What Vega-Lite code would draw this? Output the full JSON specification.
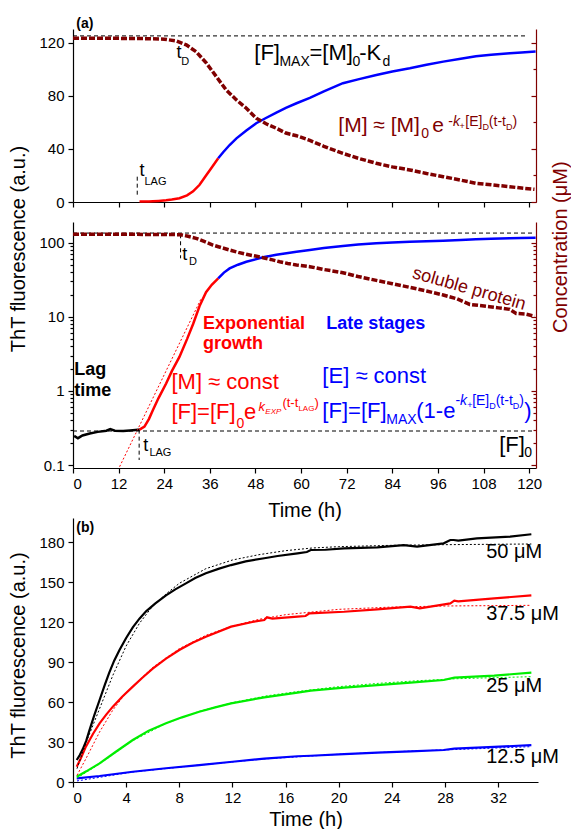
{
"$schema": "https://vega.github.io/schema/vega-lite/v6.json",
"padding": {"left": 7, "top": 16, "right": 0, "bottom": 0},
"config": {"font": "Liberation Sans", "view": {"stroke": null},
  "axis": {"grid": false, "labelFontSize": 15, "titleFontSize": 20, "titleFontWeight": "normal", "labelColor": "#000000", "titleColor": "#000000", "domainColor": "#000000", "tickColor": "#000000", "domainWidth": 1.2, "tickWidth": 1.2, "labelPadding": 3}},
"bounds": "flush",
"spacing": 20,
"resolve": {"scale": {"color": "independent"}},
"datasets": {
"A": [
{"t":17.5,"v":0.3,"s":"exp"},{"t":18.8,"v":0.33,"s":"exp"},{"t":20,"v":0.42,"s":"exp"},{"t":21,"v":0.55,"s":"exp"},{"t":22.5,"v":0.8,"s":"exp"},{"t":24.5,"v":1.26,"s":"exp"},{"t":26,"v":1.85,"s":"exp"},{"t":28,"v":2.88,"s":"exp"},{"t":30,"v":5.0,"s":"exp"},{"t":31.6,"v":8.0,"s":"exp"},{"t":33.3,"v":13,"s":"exp"},{"t":35,"v":20,"s":"exp"},{"t":36.5,"v":26,"s":"exp"},{"t":38.2,"v":33,"s":"exp"},
{"t":38.2,"v":33,"s":"late"},{"t":39.5,"v":37.5,"s":"late"},{"t":41.2,"v":43,"s":"late"},{"t":43,"v":48,"s":"late"},{"t":45.6,"v":54,"s":"late"},{"t":48.2,"v":59.4,"s":"late"},{"t":50.5,"v":63,"s":"late"},{"t":53.5,"v":67.4,"s":"late"},{"t":56,"v":71,"s":"late"},{"t":58.8,"v":74.5,"s":"late"},{"t":62.3,"v":78.5,"s":"late"},{"t":66,"v":83.5,"s":"late"},{"t":71,"v":89.6,"s":"late"},{"t":75,"v":92.5,"s":"late"},{"t":79.8,"v":95.8,"s":"late"},{"t":84,"v":98.5,"s":"late"},{"t":88.6,"v":100.9,"s":"late"},{"t":93,"v":103.5,"s":"late"},{"t":97.4,"v":105.9,"s":"late"},{"t":102,"v":108,"s":"late"},{"t":106,"v":110,"s":"late"},{"t":110,"v":111,"s":"late"},{"t":114.9,"v":112.2,"s":"late"},{"t":118,"v":112.8,"s":"late"},{"t":121.7,"v":113.5,"s":"late"}
],
"Aref": [
{"t":0,"v":125.3,"s":"Fmax"},{"t":119.2,"v":125.3,"s":"Fmax"},
{"t":16.9,"v":19.1,"s":"tlag"},{"t":16.9,"v":4.5,"s":"tlag"}
],
"Aconc": [
{"t":0,"v":123.5},{"t":10,"v":123.5},{"t":20,"v":123.2},{"t":24,"v":122.8},{"t":27.2,"v":121.5},{"t":29.8,"v":118.5},{"t":32.4,"v":113.4},{"t":35.1,"v":104.7},{"t":37.7,"v":94.6},{"t":40.3,"v":84.5},{"t":43,"v":77},{"t":45.6,"v":70.7},{"t":48.2,"v":63.2},{"t":50.8,"v":59},{"t":53.5,"v":55.6},{"t":56,"v":52},{"t":58.8,"v":50},{"t":62.3,"v":46.5},{"t":66,"v":42},{"t":71,"v":36.7},{"t":75,"v":33},{"t":79.8,"v":29.2},{"t":84,"v":26.5},{"t":88.6,"v":24.2},{"t":93,"v":21.5},{"t":97.4,"v":19.1},{"t":102,"v":16.5},{"t":106,"v":14.1},{"t":110,"v":13},{"t":114.9,"v":11.5},{"t":118,"v":10.5},{"t":121.4,"v":9.6}
],
"At": [
{"t":0.87,"v":131.3,"txt":"(a)","r":"bold14","s":"ref"},
{"t":27.2,"v":108.6,"txt":"t","r":"t","s":"ref"},
{"t":28.5,"v":103.3,"txt":"D","r":"tsub","s":"ref"},
{"t":17.5,"v":19.6,"txt":"t","r":"t","s":"ref"},
{"t":18.8,"v":12.8,"txt":"LAG","r":"tsub","s":"ref"},
{"t":47.7,"v":107.1,"txt":"[F]","r":"main","s":"ref"},
{"t":54.3,"v":102.6,"txt":"MAX","r":"sub","s":"ref"},
{"t":62.2,"v":107.1,"txt":"=[M]","r":"main","s":"ref"},
{"t":73.5,"v":102.6,"txt":"0","r":"sub","s":"ref"},
{"t":75.3,"v":107.1,"txt":"-K","r":"main","s":"ref"},
{"t":81.4,"v":102.6,"txt":"d","r":"sub","s":"ref"},
{"t":69.8,"v":52.8,"txt":"[M] ≈ [M]","r":"mainM","s":"conc"},
{"t":91.6,"v":48.3,"txt":"0","r":"sub","s":"conc"},
{"t":94.5,"v":52.8,"txt":"e","r":"mainM","s":"conc"},
{"t":98.7,"v":57.3,"txt":"-","r":"sup","s":"conc"},
{"t":99.96,"v":57.3,"txt":"k","r":"supi","s":"conc"},
{"t":101.7,"v":55.1,"txt":"+","r":"tiny","s":"conc"},
{"t":103.2,"v":57.3,"txt":"[E]","r":"sup","s":"conc"},
{"t":107.7,"v":54.3,"txt":"D","r":"tiny","s":"conc"},
{"t":109.4,"v":57.3,"txt":"(t-t","r":"sup","s":"conc"},
{"t":113.9,"v":54.3,"txt":"D","r":"tiny","s":"conc"},
{"t":115.6,"v":57.3,"txt":")","r":"sup","s":"conc"}
],
"B": [
{"t":0.3,"v":0.247,"s":"lag"},{"t":1.3,"v":0.23,"s":"lag"},{"t":2.5,"v":0.25,"s":"lag"},{"t":4.4,"v":0.266,"s":"lag"},{"t":6.5,"v":0.28,"s":"lag"},{"t":8.8,"v":0.29,"s":"lag"},{"t":9.8,"v":0.305,"s":"lag"},{"t":11,"v":0.29,"s":"lag"},{"t":13.2,"v":0.288,"s":"lag"},{"t":15,"v":0.293,"s":"lag"},{"t":17.1,"v":0.3,"s":"lag"},{"t":17.5,"v":0.3,"s":"lag"},
{"t":17.5,"v":0.3,"s":"exp"},{"t":18.8,"v":0.33,"s":"exp"},{"t":20,"v":0.42,"s":"exp"},{"t":21,"v":0.55,"s":"exp"},{"t":22.5,"v":0.8,"s":"exp"},{"t":24.5,"v":1.26,"s":"exp"},{"t":26,"v":1.85,"s":"exp"},{"t":28,"v":2.88,"s":"exp"},{"t":30,"v":5.0,"s":"exp"},{"t":31.6,"v":8.0,"s":"exp"},{"t":33.3,"v":14,"s":"exp"},{"t":35,"v":21.5,"s":"exp"},{"t":36.5,"v":27,"s":"exp"},{"t":38.2,"v":33,"s":"exp"},
{"t":38.2,"v":33,"s":"late"},{"t":39.7,"v":39.5,"s":"late"},{"t":41.2,"v":45,"s":"late"},{"t":43.4,"v":50.5,"s":"late"},{"t":45.6,"v":55.4,"s":"late"},{"t":50,"v":63.5,"s":"late"},{"t":53.5,"v":69,"s":"late"},{"t":58.8,"v":75.5,"s":"late"},{"t":62.3,"v":79.7,"s":"late"},{"t":66,"v":85,"s":"late"},{"t":71,"v":90,"s":"late"},{"t":75,"v":94.5,"s":"late"},{"t":79.8,"v":98,"s":"late"},{"t":84,"v":101,"s":"late"},{"t":88.6,"v":103,"s":"late"},{"t":93,"v":105,"s":"late"},{"t":97.4,"v":106.5,"s":"late"},{"t":102,"v":109,"s":"late"},{"t":106,"v":111,"s":"late"},{"t":110,"v":113,"s":"late"},{"t":114.9,"v":114.7,"s":"late"},{"t":118,"v":115.8,"s":"late"},{"t":121.7,"v":116.8,"s":"late"}
],
"Bref": [
{"t":0,"v":135,"s":"Fmax"},{"t":121.4,"v":135,"s":"Fmax"},
{"t":0,"v":0.2876,"s":"F0"},{"t":121.4,"v":0.2876,"s":"F0"},
{"t":17.4,"v":0.3,"s":"tlag"},{"t":17.4,"v":0.1168,"s":"tlag"},
{"t":28.3,"v":130,"s":"tD"},{"t":28.3,"v":61.6,"s":"tD"}
],
"Bfit": [
{"t":12.26,"v":0.0948},{"t":33.75,"v":17.77}
],
"Bconc": [
{"t":0,"v":129.8},{"t":10,"v":130},{"t":20,"v":129.5},{"t":26,"v":129},{"t":28.3,"v":128},{"t":30,"v":123},{"t":32.4,"v":114.6},{"t":34.5,"v":104},{"t":36.8,"v":93},{"t":39,"v":86},{"t":41.2,"v":79.7},{"t":43.5,"v":74},{"t":45.6,"v":69.7},{"t":48,"v":66},{"t":50,"v":62.8},{"t":52,"v":59.5},{"t":54.4,"v":55.4},{"t":56.5,"v":52.5},{"t":58.8,"v":50},{"t":62.3,"v":47.5},{"t":66,"v":43.5},{"t":71,"v":39.4},{"t":75,"v":35},{"t":79.8,"v":31},{"t":84,"v":28},{"t":88.6,"v":25},{"t":93,"v":22.3},{"t":97.4,"v":19.7},{"t":101,"v":17.5},{"t":104.4,"v":14.7},{"t":107,"v":14.2},{"t":109.6,"v":13.7},{"t":112,"v":13.2},{"t":114.9,"v":12.6},{"t":116.6,"v":11.1},{"t":119,"v":10.9},{"t":121.4,"v":10.2}
],
"Bt": [
{"t":28.75,"v":58.4,"txt":"t","r":"t","s":"ref"},
{"t":30.5,"v":50.0,"txt":"D","r":"tsub","s":"ref"},
{"t":18.5,"v":0.1545,"txt":"t","r":"t","s":"ref"},
{"t":20.1,"v":0.132,"txt":"LAG","r":"tsub","s":"ref"},
{"t":0.3,"v":1.639,"txt":"Lag","r":"bold","s":"ref"},
{"t":0.3,"v":0.853,"txt":"time","r":"bold","s":"ref"},
{"t":34.2,"v":6.84,"txt":"Exponential","r":"bold","s":"exp"},
{"t":34.2,"v":3.68,"txt":"growth","r":"bold","s":"exp"},
{"t":66.6,"v":6.84,"txt":"Late stages","r":"bold","s":"late"},
{"t":25.9,"v":1.061,"txt":"[M] ≈ const","r":"main","s":"exp"},
{"t":25.9,"v":0.4175,"txt":"[F]=[F]","r":"main","s":"exp"},
{"t":43.0,"v":0.3157,"txt":"0","r":"sub","s":"exp"},
{"t":45.0,"v":0.4175,"txt":"e","r":"main","s":"exp"},
{"t":48.77,"v":0.5355,"txt":"k","r":"supi13","s":"exp"},
{"t":50.6,"v":0.4878,"txt":"EXP","r":"tinyi8","s":"exp"},
{"t":55.08,"v":0.6064,"txt":"(t-t","r":"sup13","s":"exp"},
{"t":59.3,"v":0.5355,"txt":"LAG","r":"tiny8","s":"exp"},
{"t":63.5,"v":0.6064,"txt":")","r":"sup13","s":"exp"},
{"t":65.6,"v":1.278,"txt":"[E] ≈ const","r":"main","s":"late"},
{"t":65.6,"v":0.4307,"txt":"[F]=[F]","r":"main","s":"late"},
{"t":82.4,"v":0.3575,"txt":"MAX","r":"sub","s":"late"},
{"t":90.3,"v":0.4307,"txt":"(1-e","r":"main","s":"late"},
{"t":100.6,"v":0.645,"txt":"-","r":"sup","s":"late"},
{"t":101.8,"v":0.645,"txt":"k","r":"supi","s":"late"},
{"t":103.7,"v":0.5877,"txt":"+","r":"tiny","s":"late"},
{"t":105.0,"v":0.645,"txt":"[E]","r":"sup","s":"late"},
{"t":109.5,"v":0.5695,"txt":"D","r":"tiny","s":"late"},
{"t":111.2,"v":0.645,"txt":"(t-t","r":"sup","s":"late"},
{"t":115.7,"v":0.5695,"txt":"D","r":"tiny","s":"late"},
{"t":117.4,"v":0.645,"txt":")","r":"sup","s":"late"},
{"t":118.7,"v":0.4307,"txt":")","r":"main","s":"late"},
{"t":112.1,"v":0.1498,"txt":"[F]","r":"main","s":"ref"},
{"t":118.7,"v":0.1282,"txt":"0","r":"sub","s":"ref"},
{"t":104.2,"v":23.7,"txt":"soluble protein","r":"rot","s":"conc"}
],
"C": [
{"t":0.28,"v":16.5,"s":"50"},{"t":0.5,"v":20,"s":"50"},{"t":0.73,"v":24.5,"s":"50"},{"t":1.0,"v":31,"s":"50"},{"t":1.23,"v":38.5,"s":"50"},{"t":1.6,"v":50,"s":"50"},{"t":2,"v":61.5,"s":"50"},{"t":2.4,"v":73,"s":"50"},{"t":2.73,"v":82,"s":"50"},{"t":3.1,"v":91,"s":"50"},{"t":3.5,"v":99,"s":"50"},{"t":4,"v":108,"s":"50"},{"t":4.5,"v":116,"s":"50"},{"t":5,"v":122.5,"s":"50"},{"t":5.5,"v":128,"s":"50"},{"t":6.2,"v":134,"s":"50"},{"t":7,"v":140,"s":"50"},{"t":7.7,"v":144.5,"s":"50"},{"t":8.5,"v":149,"s":"50"},{"t":9.2,"v":153,"s":"50"},{"t":10,"v":156.5,"s":"50"},{"t":11,"v":160,"s":"50"},{"t":11.9,"v":162.7,"s":"50"},{"t":13,"v":165.5,"s":"50"},{"t":14.4,"v":167.8,"s":"50"},{"t":15.4,"v":169.5,"s":"50"},{"t":16.9,"v":171.5,"s":"50"},{"t":17.6,"v":172.5,"s":"50"},{"t":17.9,"v":174,"s":"50"},{"t":19,"v":174.2,"s":"50"},{"t":20.4,"v":175.2,"s":"50"},{"t":22.9,"v":176,"s":"50"},{"t":24.9,"v":177.7,"s":"50"},{"t":25.9,"v":176.5,"s":"50"},{"t":27.9,"v":179,"s":"50"},{"t":28.4,"v":181.5,"s":"50"},{"t":28.65,"v":181.5,"s":"50"},{"t":29,"v":181,"s":"50"},{"t":30.4,"v":182.7,"s":"50"},{"t":32.9,"v":184,"s":"50"},{"t":34.5,"v":185.8,"s":"50"},
{"t":0.28,"v":11.5,"s":"37.5"},{"t":0.6,"v":18,"s":"37.5"},{"t":0.97,"v":26.5,"s":"37.5"},{"t":1.5,"v":36,"s":"37.5"},{"t":2,"v":44,"s":"37.5"},{"t":2.5,"v":50.5,"s":"37.5"},{"t":3,"v":56.5,"s":"37.5"},{"t":3.7,"v":64,"s":"37.5"},{"t":4.5,"v":71.5,"s":"37.5"},{"t":5.2,"v":78,"s":"37.5"},{"t":6,"v":85,"s":"37.5"},{"t":7,"v":92.5,"s":"37.5"},{"t":8,"v":99,"s":"37.5"},{"t":9,"v":104.5,"s":"37.5"},{"t":10,"v":109,"s":"37.5"},{"t":11.9,"v":116.5,"s":"37.5"},{"t":13.5,"v":120,"s":"37.5"},{"t":14.4,"v":121.5,"s":"37.5"},{"t":14.6,"v":123.5,"s":"37.5"},{"t":15,"v":122.5,"s":"37.5"},{"t":16.9,"v":124,"s":"37.5"},{"t":17.5,"v":124.5,"s":"37.5"},{"t":17.8,"v":126.5,"s":"37.5"},{"t":20.4,"v":127.7,"s":"37.5"},{"t":22.9,"v":129.5,"s":"37.5"},{"t":25.4,"v":131.5,"s":"37.5"},{"t":26.1,"v":130.2,"s":"37.5"},{"t":28.4,"v":134,"s":"37.5"},{"t":28.7,"v":136,"s":"37.5"},{"t":29,"v":135.5,"s":"37.5"},{"t":31.7,"v":137.7,"s":"37.5"},{"t":34.5,"v":140,"s":"37.5"},
{"t":0.28,"v":4,"s":"25"},{"t":1,"v":8,"s":"25"},{"t":2,"v":14,"s":"25"},{"t":3.2,"v":22.5,"s":"25"},{"t":4.5,"v":31.5,"s":"25"},{"t":5.7,"v":38.5,"s":"25"},{"t":7,"v":44,"s":"25"},{"t":8.2,"v":48.5,"s":"25"},{"t":9.5,"v":52.7,"s":"25"},{"t":10.7,"v":56,"s":"25"},{"t":11.9,"v":59,"s":"25"},{"t":14.4,"v":63.5,"s":"25"},{"t":16.9,"v":67,"s":"25"},{"t":17.9,"v":68.5,"s":"25"},{"t":20.4,"v":70.8,"s":"25"},{"t":22.9,"v":72.7,"s":"25"},{"t":25.4,"v":74.6,"s":"25"},{"t":27.9,"v":76.5,"s":"25"},{"t":28.7,"v":78.3,"s":"25"},{"t":31.7,"v":79.8,"s":"25"},{"t":34.5,"v":82,"s":"25"},
{"t":0.28,"v":2.7,"s":"12.5"},{"t":2,"v":4.5,"s":"12.5"},{"t":4.5,"v":7.7,"s":"12.5"},{"t":7,"v":10.3,"s":"12.5"},{"t":9.5,"v":12.7,"s":"12.5"},{"t":12,"v":15.2,"s":"12.5"},{"t":14.4,"v":17.5,"s":"12.5"},{"t":16.9,"v":19.3,"s":"12.5"},{"t":17.9,"v":19.7,"s":"12.5"},{"t":20.4,"v":20.9,"s":"12.5"},{"t":22.9,"v":22,"s":"12.5"},{"t":25.4,"v":23,"s":"12.5"},{"t":27.9,"v":24,"s":"12.5"},{"t":28.7,"v":25,"s":"12.5"},{"t":31.7,"v":26.3,"s":"12.5"},{"t":34.5,"v":27.7,"s":"12.5"}
],
"Cfit": [
{"t":0.3,"v":10,"s":"50"},{"t":1,"v":30,"s":"50"},{"t":2,"v":55,"s":"50"},{"t":3,"v":80,"s":"50"},{"t":4,"v":102,"s":"50"},{"t":5,"v":119,"s":"50"},{"t":6,"v":132,"s":"50"},{"t":7,"v":141,"s":"50"},{"t":8,"v":149,"s":"50"},{"t":10,"v":160,"s":"50"},{"t":12,"v":166.5,"s":"50"},{"t":14,"v":170.5,"s":"50"},{"t":16,"v":173.5,"s":"50"},{"t":18,"v":175.5,"s":"50"},{"t":20,"v":176.5,"s":"50"},{"t":24,"v":177.5,"s":"50"},{"t":28,"v":178,"s":"50"},{"t":34.5,"v":178.5,"s":"50"},
{"t":0.3,"v":5,"s":"37.5"},{"t":1,"v":18,"s":"37.5"},{"t":2,"v":37.5,"s":"37.5"},{"t":3,"v":54,"s":"37.5"},{"t":4,"v":67,"s":"37.5"},{"t":6,"v":86,"s":"37.5"},{"t":8,"v":100,"s":"37.5"},{"t":10,"v":110,"s":"37.5"},{"t":12,"v":117,"s":"37.5"},{"t":14,"v":122,"s":"37.5"},{"t":16,"v":125.5,"s":"37.5"},{"t":20,"v":129.5,"s":"37.5"},{"t":24,"v":131.2,"s":"37.5"},{"t":28,"v":132,"s":"37.5"},{"t":34.5,"v":132.5,"s":"37.5"},
{"t":0.3,"v":3,"s":"25"},{"t":2,"v":13.5,"s":"25"},{"t":4.5,"v":31,"s":"25"},{"t":7,"v":44,"s":"25"},{"t":9.5,"v":53,"s":"25"},{"t":12,"v":59.5,"s":"25"},{"t":14.5,"v":64.5,"s":"25"},{"t":17,"v":68,"s":"25"},{"t":20,"v":71.5,"s":"25"},{"t":23,"v":74,"s":"25"},{"t":26,"v":76,"s":"25"},{"t":29,"v":77.5,"s":"25"},{"t":34.5,"v":79,"s":"25"},
{"t":0.3,"v":0.8,"s":"12.5"},{"t":2,"v":3.5,"s":"12.5"},{"t":4.5,"v":7.5,"s":"12.5"},{"t":9.5,"v":12.7,"s":"12.5"},{"t":14.4,"v":17.3,"s":"12.5"},{"t":20,"v":20.8,"s":"12.5"},{"t":25,"v":23,"s":"12.5"},{"t":30,"v":24.8,"s":"12.5"},{"t":34.5,"v":26.5,"s":"12.5"}
],
"Ct": [
{"t":0.25,"v":187.5,"txt":"(b)","r":"bold14"},
{"t":31.1,"v":168,"txt":"50 μM","r":"label"},
{"t":31.1,"v":121.5,"txt":"37.5 μM","r":"label"},
{"t":31.1,"v":67.7,"txt":"25 μM","r":"label"},
{"t":31.1,"v":14,"txt":"12.5 μM","r":"label"}
]
},
"vconcat": [
{
 "width": 463, "height": 173,
 "layer": [
  {"layer": [
   {"data": {"name": "A"}, "mark": {"type": "line", "strokeWidth": 2.5},
    "encoding": {
     "x": {"field": "t", "type": "quantitative", "scale": {"domain": [0, 121.8], "nice": false, "zero": false},
       "axis": {"values": [0,6,12,18,24,30,36,42,48,54,60,66,72,78,84,90,96,102,108,114,120], "labels": false, "title": null,
         "tickSize": {"condition": {"test": "datum.value % 12 === 0", "value": 5}, "value": 3}}},
     "y": {"field": "v", "type": "quantitative", "scale": {"domain": [0, 130.5], "nice": false},
       "axis": {"values": [0,20,40,60,80,100,120], "labelExpr": "datum.value % 40 === 0 ? datum.label : ''", "title": null, "labelPadding": 4,
         "tickSize": {"condition": {"test": "datum.value % 40 === 0", "value": 5}, "value": 3}}},
     "color": {"field": "s", "type": "nominal", "scale": {"domain": ["lag","exp","late","conc","ref"], "range": ["#000000","#ff0000","#0000ff","#800000","#000000"]}, "legend": null}
    }},
   {"data": {"name": "Aref"}, "mark": {"type": "line", "strokeDash": [4,3], "strokeWidth": 1, "color": "#000000"},
    "encoding": {"x": {"field": "t", "type": "quantitative"}, "y": {"field": "v", "type": "quantitative"}, "detail": {"field": "s"}}},
   {"data": {"name": "At"}, "transform": [{"filter": "datum.r === 'main'"}], "mark": {"type": "text", "align": "left", "baseline": "alphabetic", "fontSize": 22},
    "encoding": {"x": {"field": "t", "type": "quantitative"}, "y": {"field": "v", "type": "quantitative"}, "text": {"field": "txt"}, "color": {"field": "s", "type": "nominal", "legend": null}}},
   {"data": {"name": "At"}, "transform": [{"filter": "datum.r === 'mainM'"}], "mark": {"type": "text", "align": "left", "baseline": "alphabetic", "fontSize": 21},
    "encoding": {"x": {"field": "t", "type": "quantitative"}, "y": {"field": "v", "type": "quantitative"}, "text": {"field": "txt"}, "color": {"field": "s", "type": "nominal", "legend": null}}},
   {"data": {"name": "At"}, "transform": [{"filter": "datum.r === 'sub'"}], "mark": {"type": "text", "align": "left", "baseline": "alphabetic", "fontSize": 14},
    "encoding": {"x": {"field": "t", "type": "quantitative"}, "y": {"field": "v", "type": "quantitative"}, "text": {"field": "txt"}, "color": {"field": "s", "type": "nominal", "legend": null}}},
   {"data": {"name": "At"}, "transform": [{"filter": "datum.r === 'sup'"}], "mark": {"type": "text", "align": "left", "baseline": "alphabetic", "fontSize": 14},
    "encoding": {"x": {"field": "t", "type": "quantitative"}, "y": {"field": "v", "type": "quantitative"}, "text": {"field": "txt"}, "color": {"field": "s", "type": "nominal", "legend": null}}},
   {"data": {"name": "At"}, "transform": [{"filter": "datum.r === 'supi'"}], "mark": {"type": "text", "align": "left", "baseline": "alphabetic", "fontSize": 14, "fontStyle": "italic"},
    "encoding": {"x": {"field": "t", "type": "quantitative"}, "y": {"field": "v", "type": "quantitative"}, "text": {"field": "txt"}, "color": {"field": "s", "type": "nominal", "legend": null}}},
   {"data": {"name": "At"}, "transform": [{"filter": "datum.r === 'tiny'"}], "mark": {"type": "text", "align": "left", "baseline": "alphabetic", "fontSize": 9},
    "encoding": {"x": {"field": "t", "type": "quantitative"}, "y": {"field": "v", "type": "quantitative"}, "text": {"field": "txt"}, "color": {"field": "s", "type": "nominal", "legend": null}}},
   {"data": {"name": "At"}, "transform": [{"filter": "datum.r === 't'"}], "mark": {"type": "text", "align": "left", "baseline": "alphabetic", "fontSize": 18},
    "encoding": {"x": {"field": "t", "type": "quantitative"}, "y": {"field": "v", "type": "quantitative"}, "text": {"field": "txt"}, "color": {"field": "s", "type": "nominal", "legend": null}}},
   {"data": {"name": "At"}, "transform": [{"filter": "datum.r === 'tsub'"}], "mark": {"type": "text", "align": "left", "baseline": "alphabetic", "fontSize": 11},
    "encoding": {"x": {"field": "t", "type": "quantitative"}, "y": {"field": "v", "type": "quantitative"}, "text": {"field": "txt"}, "color": {"field": "s", "type": "nominal", "legend": null}}},
   {"data": {"name": "At"}, "transform": [{"filter": "datum.r === 'bold14'"}], "mark": {"type": "text", "align": "left", "baseline": "alphabetic", "fontSize": 14, "fontWeight": "bold"},
    "encoding": {"x": {"field": "t", "type": "quantitative"}, "y": {"field": "v", "type": "quantitative"}, "text": {"field": "txt"}, "color": {"field": "s", "type": "nominal", "legend": null}}}
  ]},
  {"data": {"name": "Aconc"}, "mark": {"type": "line", "color": "#800000", "strokeWidth": 3.5, "strokeDash": [6,2]},
   "encoding": {"x": {"field": "t", "type": "quantitative"},
     "y": {"field": "v", "type": "quantitative", "scale": {"domain": [0, 130.5], "nice": false},
       "axis": {"orient": "right", "values": [0,20,40,60,80,100,120], "labels": false, "title": null, "domainColor": "#800000", "tickColor": "#800000",
         "tickSize": {"condition": {"test": "datum.value % 40 === 0", "value": -5}, "value": -3}}}}}
 ],
 "resolve": {"scale": {"y": "independent"}}
},
{
 "width": 463, "height": 246,
 "layer": [
  {"layer": [
   {"data": {"name": "B"}, "mark": {"type": "line", "strokeWidth": 2.5},
    "encoding": {
     "x": {"field": "t", "type": "quantitative", "scale": {"domain": [0, 121.8], "nice": false, "zero": false},
       "axis": {"values": [0,6,12,18,24,30,36,42,48,54,60,66,72,78,84,90,96,102,108,114,120], "labelExpr": "datum.value % 12 === 0 ? datum.label : ''",
         "title": "Time (h)", "titleY": 42.5, "titleBaseline": "middle",
         "tickSize": {"condition": {"test": "datum.value % 12 === 0", "value": 5}, "value": 3}}},
     "y": {"field": "v", "type": "quantitative", "scale": {"type": "log", "domain": [0.0911, 190.4], "nice": false},
       "axis": {"values": [0.1,0.2,0.3,0.4,0.5,0.6,0.7,0.8,0.9,1,2,3,4,5,6,7,8,9,10,20,30,40,50,60,70,80,90,100],
         "labelExpr": "(datum.value === 0.1 || datum.value === 1 || datum.value === 10 || datum.value === 100) ? format(datum.value, '~g') : ''",
         "labelPadding": 4,
         "title": "ThT fluorescence (a.u.)", "titleX": -55, "titleY": 26.5, "titleBaseline": "middle", "titleAngle": 270, "titleAlign": "center",
         "tickSize": {"condition": {"test": "datum.value === 0.1 || datum.value === 1 || datum.value === 10 || datum.value === 100", "value": 5}, "value": 3}}},
     "color": {"field": "s", "type": "nominal", "scale": {"domain": ["lag","exp","late","conc","ref"], "range": ["#000000","#ff0000","#0000ff","#800000","#000000"]}, "legend": null}
    }},
   {"data": {"name": "Bfit"}, "mark": {"type": "line", "strokeDash": [2,2], "strokeWidth": 1, "color": "#ff0000"},
    "encoding": {"x": {"field": "t", "type": "quantitative"}, "y": {"field": "v", "type": "quantitative"}}},
   {"data": {"name": "Bref"}, "mark": {"type": "line", "strokeDash": [4,3], "strokeWidth": 1, "color": "#000000"},
    "encoding": {"x": {"field": "t", "type": "quantitative"}, "y": {"field": "v", "type": "quantitative"}, "detail": {"field": "s"}}},
   {"data": {"name": "Bt"}, "transform": [{"filter": "datum.r === 'main'"}], "mark": {"type": "text", "align": "left", "baseline": "alphabetic", "fontSize": 22},
    "encoding": {"x": {"field": "t", "type": "quantitative"}, "y": {"field": "v", "type": "quantitative"}, "text": {"field": "txt"}, "color": {"field": "s", "type": "nominal", "legend": null}}},
   {"data": {"name": "Bt"}, "transform": [{"filter": "datum.r === 'sub'"}], "mark": {"type": "text", "align": "left", "baseline": "alphabetic", "fontSize": 14},
    "encoding": {"x": {"field": "t", "type": "quantitative"}, "y": {"field": "v", "type": "quantitative"}, "text": {"field": "txt"}, "color": {"field": "s", "type": "nominal", "legend": null}}},
   {"data": {"name": "Bt"}, "transform": [{"filter": "datum.r === 'sup'"}], "mark": {"type": "text", "align": "left", "baseline": "alphabetic", "fontSize": 14},
    "encoding": {"x": {"field": "t", "type": "quantitative"}, "y": {"field": "v", "type": "quantitative"}, "text": {"field": "txt"}, "color": {"field": "s", "type": "nominal", "legend": null}}},
   {"data": {"name": "Bt"}, "transform": [{"filter": "datum.r === 'supi'"}], "mark": {"type": "text", "align": "left", "baseline": "alphabetic", "fontSize": 14, "fontStyle": "italic"},
    "encoding": {"x": {"field": "t", "type": "quantitative"}, "y": {"field": "v", "type": "quantitative"}, "text": {"field": "txt"}, "color": {"field": "s", "type": "nominal", "legend": null}}},
   {"data": {"name": "Bt"}, "transform": [{"filter": "datum.r === 'sup13'"}], "mark": {"type": "text", "align": "left", "baseline": "alphabetic", "fontSize": 13},
    "encoding": {"x": {"field": "t", "type": "quantitative"}, "y": {"field": "v", "type": "quantitative"}, "text": {"field": "txt"}, "color": {"field": "s", "type": "nominal", "legend": null}}},
   {"data": {"name": "Bt"}, "transform": [{"filter": "datum.r === 'supi13'"}], "mark": {"type": "text", "align": "left", "baseline": "alphabetic", "fontSize": 13, "fontStyle": "italic"},
    "encoding": {"x": {"field": "t", "type": "quantitative"}, "y": {"field": "v", "type": "quantitative"}, "text": {"field": "txt"}, "color": {"field": "s", "type": "nominal", "legend": null}}},
   {"data": {"name": "Bt"}, "transform": [{"filter": "datum.r === 'tiny'"}], "mark": {"type": "text", "align": "left", "baseline": "alphabetic", "fontSize": 9},
    "encoding": {"x": {"field": "t", "type": "quantitative"}, "y": {"field": "v", "type": "quantitative"}, "text": {"field": "txt"}, "color": {"field": "s", "type": "nominal", "legend": null}}},
   {"data": {"name": "Bt"}, "transform": [{"filter": "datum.r === 'tiny8'"}], "mark": {"type": "text", "align": "left", "baseline": "alphabetic", "fontSize": 8},
    "encoding": {"x": {"field": "t", "type": "quantitative"}, "y": {"field": "v", "type": "quantitative"}, "text": {"field": "txt"}, "color": {"field": "s", "type": "nominal", "legend": null}}},
   {"data": {"name": "Bt"}, "transform": [{"filter": "datum.r === 'tinyi8'"}], "mark": {"type": "text", "align": "left", "baseline": "alphabetic", "fontSize": 8, "fontStyle": "italic"},
    "encoding": {"x": {"field": "t", "type": "quantitative"}, "y": {"field": "v", "type": "quantitative"}, "text": {"field": "txt"}, "color": {"field": "s", "type": "nominal", "legend": null}}},
   {"data": {"name": "Bt"}, "transform": [{"filter": "datum.r === 't'"}], "mark": {"type": "text", "align": "left", "baseline": "alphabetic", "fontSize": 18},
    "encoding": {"x": {"field": "t", "type": "quantitative"}, "y": {"field": "v", "type": "quantitative"}, "text": {"field": "txt"}, "color": {"field": "s", "type": "nominal", "legend": null}}},
   {"data": {"name": "Bt"}, "transform": [{"filter": "datum.r === 'tsub'"}], "mark": {"type": "text", "align": "left", "baseline": "alphabetic", "fontSize": 11},
    "encoding": {"x": {"field": "t", "type": "quantitative"}, "y": {"field": "v", "type": "quantitative"}, "text": {"field": "txt"}, "color": {"field": "s", "type": "nominal", "legend": null}}},
   {"data": {"name": "Bt"}, "transform": [{"filter": "datum.r === 'bold'"}], "mark": {"type": "text", "align": "left", "baseline": "alphabetic", "fontSize": 18, "fontWeight": "bold"},
    "encoding": {"x": {"field": "t", "type": "quantitative"}, "y": {"field": "v", "type": "quantitative"}, "text": {"field": "txt"}, "color": {"field": "s", "type": "nominal", "legend": null}}},
   {"data": {"name": "Bt"}, "transform": [{"filter": "datum.r === 'rot'"}], "mark": {"type": "text", "align": "center", "baseline": "middle", "fontSize": 18, "angle": 16},
    "encoding": {"x": {"field": "t", "type": "quantitative"}, "y": {"field": "v", "type": "quantitative"}, "text": {"field": "txt"}, "color": {"field": "s", "type": "nominal", "legend": null}}}
  ]},
  {"data": {"name": "Bconc"}, "mark": {"type": "line", "color": "#800000", "strokeWidth": 3.5, "strokeDash": [6,2]},
   "encoding": {"x": {"field": "t", "type": "quantitative"},
     "y": {"field": "v", "type": "quantitative", "scale": {"type": "log", "domain": [0.0911, 190.4], "nice": false},
       "axis": {"orient": "right", "values": [0.1,0.2,0.3,0.4,0.5,0.6,0.7,0.8,0.9,1,2,3,4,5,6,7,8,9,10,20,30,40,50,60,70,80,90,100],
         "labels": false, "domainColor": "#800000", "tickColor": "#800000",
         "title": "Concentration (μM)", "titleColor": "#800000", "titleX": 24.8, "titleY": 24.7, "titleAngle": 270, "titleBaseline": "middle", "titleAlign": "center",
         "tickSize": {"condition": {"test": "datum.value === 0.1 || datum.value === 1 || datum.value === 10 || datum.value === 100", "value": -5}, "value": -3}}}}}
 ],
 "resolve": {"scale": {"y": "independent"}}
},
{
 "width": 463, "height": 10,
 "data": {"values": [{"t": 0}]},
 "mark": {"type": "point", "opacity": 0},
 "encoding": {}
},
{
 "width": 465, "height": 264,
 "layer": [
  {"data": {"name": "C"}, "mark": {"type": "line", "strokeWidth": 2.2},
   "encoding": {
    "x": {"field": "t", "type": "quantitative", "scale": {"domain": [0, 35], "nice": false, "zero": false},
      "axis": {"values": [0,2,4,6,8,10,12,14,16,18,20,22,24,26,28,30,32,34], "labelExpr": "datum.value % 4 === 0 ? datum.label : ''",
        "title": "Time (h)", "titleY": 37, "titleBaseline": "middle",
        "tickSize": {"condition": {"test": "datum.value % 4 === 0", "value": 5}, "value": 3}}},
    "y": {"field": "v", "type": "quantitative", "scale": {"domain": [0, 198], "nice": false},
      "axis": {"values": [0,15,30,45,60,75,90,105,120,135,150,165,180,195], "labelExpr": "datum.value % 30 === 0 ? datum.label : ''",
        "labelPadding": 4,
        "title": "ThT fluorescence (a.u.)", "titleX": -55, "titleY": 137, "titleBaseline": "middle", "titleAngle": 270, "titleAlign": "center",
        "tickSize": {"condition": {"test": "datum.value % 30 === 0", "value": 5}, "value": 3}}},
    "color": {"field": "s", "type": "nominal", "scale": {"domain": ["50","37.5","25","12.5"], "range": ["#000000","#ff0000","#00ee00","#0000ff"]}, "legend": null}
   }},
  {"data": {"name": "Cfit"}, "mark": {"type": "line", "strokeDash": [2,2], "strokeWidth": 1},
   "encoding": {"x": {"field": "t", "type": "quantitative"}, "y": {"field": "v", "type": "quantitative"},
     "color": {"field": "s", "type": "nominal", "legend": null}}},
  {"data": {"name": "Ct"}, "transform": [{"filter": "datum.r === 'label'"}], "mark": {"type": "text", "align": "left", "baseline": "alphabetic", "fontSize": 20, "color": "#000000"},
   "encoding": {"x": {"field": "t", "type": "quantitative"}, "y": {"field": "v", "type": "quantitative"}, "text": {"field": "txt"}}},
  {"data": {"name": "Ct"}, "transform": [{"filter": "datum.r === 'bold14'"}], "mark": {"type": "text", "align": "left", "baseline": "alphabetic", "fontSize": 14, "fontWeight": "bold", "color": "#000000"},
   "encoding": {"x": {"field": "t", "type": "quantitative"}, "y": {"field": "v", "type": "quantitative"}, "text": {"field": "txt"}}}
 ]
}
]
}
